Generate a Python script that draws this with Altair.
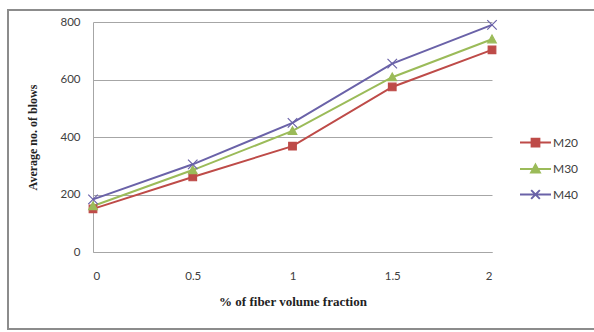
import altair as alt
import pandas as pd

fractions = [0, 0.5, 1, 1.5, 2]
series_names = ["M20", "M30", "M40"]
m20 = [150, 261, 368, 574, 703]
m30 = [160, 285, 421, 608, 740]
m40 = [183, 305, 449, 655, 790]
y_ticks = [0, 200, 400, 600, 800]

colors = ["#BE4B48", "#9BBB59", "#6A62A8"]
plot_shapes = [
    "M-0.8,-0.8H0.8V0.8H-0.8Z",
    "M0,-0.9L0.9,0.75L-0.9,0.75Z",
    "M-1,-1L1,1M-1,1L1,-1",
]
legend_shapes = [
    "M-1,0H1M-0.25,-0.25H0.25V0.25H-0.25Z",
    "M-1,0H1M0,-0.28L0.28,0.22L-0.28,0.22Z",
    "M-1,0H1M-0.28,-0.28L0.28,0.28M-0.28,0.28L0.28,-0.28",
]

rows = []
for name, vals in zip(series_names, [m20, m30, m40]):
    for f, v in zip(fractions, vals):
        rows.append({"fraction": f, "blows": v, "series": name})
df = pd.DataFrame(rows)

x_enc = alt.X(
    "fraction:Q",
    scale=alt.Scale(domain=[0, 2], nice=False),
    axis=alt.Axis(
        values=fractions, format=".1~f", title="% of fiber volume fraction",
        grid=False, ticks=False, domain=True, domainColor="#A6A6A6",
        labelPadding=18, titlePadding=14,
    ),
)
y_enc = alt.Y(
    "blows:Q",
    scale=alt.Scale(domain=[0, 800], nice=False),
    axis=alt.Axis(
        values=y_ticks, title="Average no. of blows", grid=True,
        gridColor="#A6A6A6", ticks=False, domain=True, domainColor="#A6A6A6",
        labelPadding=13, titlePadding=20,
    ),
)
cscale = alt.Scale(domain=series_names, range=colors)

lines = alt.Chart(df).mark_line(strokeWidth=2).encode(
    x=x_enc, y=y_enc,
    color=alt.Color("series:N", scale=cscale, legend=None),
)
points = alt.Chart(df).mark_point(filled=True, size=90, strokeWidth=1.2, opacity=1).encode(
    x=x_enc, y=y_enc,
    color=alt.Color("series:N", scale=cscale, legend=None),
    stroke=alt.Stroke("series:N", scale=cscale, legend=None),
    shape=alt.Shape("series:N", scale=alt.Scale(domain=series_names, range=plot_shapes), legend=None),
)
legend_layer = alt.Chart(df).transform_filter("false").mark_point(
    filled=True, size=961, strokeWidth=2, opacity=1
).encode(
    x=alt.X("fraction:Q"), y=alt.Y("blows:Q"),
    color=alt.Color("series:N", scale=cscale, title=None),
    stroke=alt.Stroke("series:N", scale=cscale, title=None),
    shape=alt.Shape("series:N", scale=alt.Scale(domain=series_names, range=legend_shapes), title=None),
)
border = alt.Chart(df).mark_rect(fill=None, stroke="#8C8C8C", strokeWidth=1.5, clip=False).encode(
    x=alt.value(-85), x2=alt.value(515), y=alt.value(-12), y2=alt.value(307),
)

chart = alt.layer(border, lines, points, legend_layer).resolve_scale(
    color="independent", shape="independent", stroke="independent"
).properties(
    width=399, height=230,
    autosize=alt.AutoSizeParams(type="none"),
    padding={"left": 93, "top": 22, "right": 102, "bottom": 80},
).configure_view(stroke=None).configure_axis(
    labelFont="Lato", labelFontSize=11.5, labelColor="#404040",
    titleFont="Liberation Serif", titleFontWeight="bold", titleColor="#222222",
).configure_axisX(titleFontSize=13).configure_axisY(titleFontSize=12).configure_legend(
    orient="none", legendX=426, legendY=104, labelFont="Lato", labelFontSize=12,
    labelColor="#404040", rowPadding=1.5, symbolStrokeWidth=2, labelOffset=1,
    symbolSize=961,
)

chart.save("out.html", embed_options={"renderer": "svg", "actions": False})
